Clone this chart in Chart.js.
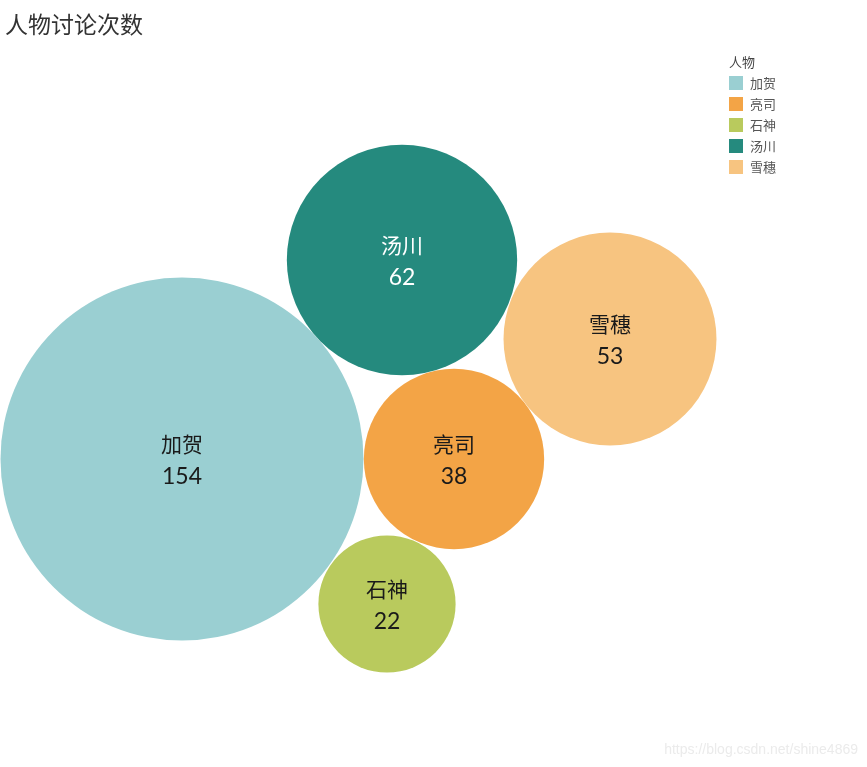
<!DOCTYPE html>
<html><head><meta charset="utf-8">
<script src="https://cdn.jsdelivr.net/npm/chart.js@4/dist/chart.umd.min.js"></script>
<style>
html,body{margin:0;padding:0;background:#fff;width:867px;height:767px;overflow:hidden;font-family:"Noto Sans CJK SC","Noto Sans",sans-serif;}
#wrap{position:absolute;left:0;top:0;width:867px;height:767px;}
#title{position:absolute;left:5px;top:7px;font-size:23px;color:#333;font-family:"Noto Sans CJK SC",sans-serif;line-height:32px;}
#legend{position:absolute;left:729px;top:52px;font-size:13px;color:#555;font-family:"Noto Sans CJK SC",sans-serif;}
#legend .hd{height:20px;line-height:20px;color:#444;}
#legend .it{height:21px;line-height:21px;display:flex;align-items:center;}
#legend .sw{width:14px;height:14px;margin-right:7px;}
#wm{position:absolute;right:9px;bottom:10px;font-size:14px;color:#ebebeb;font-family:"Liberation Sans",Arial,sans-serif;}
</style></head>
<body>
<div id="wrap"><canvas id="c" width="867" height="767"></canvas></div>
<div id="title">人物讨论次数</div>
<div id="legend"></div>
<div id="wm">https://blog.csdn.net/shine4869</div>
<script>
const names = ["加贺","亮司","石神","汤川","雪穗"];
const counts = [154, 38, 22, 62, 53];
const centerX = [182, 454, 387, 402, 610];
const centerY = [459, 459, 604, 260, 339];
const colors = ["#9ACFD2","#F3A446","#B9CA5D","#258A7E","#F7C480"];
const textColors = ["#1a1a1a","#1a1a1a","#1a1a1a","#ffffff","#1a1a1a"];
const legendTitle = "人物";

const maxR = 181.5;
const maxV = Math.max(...counts);

const leg = document.getElementById('legend');
let h = '<div class="hd">'+legendTitle+'</div>';
names.forEach((n,i)=>{ h += '<div class="it"><div class="sw" style="background:'+colors[i]+'"></div>'+n+'</div>'; });
leg.innerHTML = h;

const labelPlugin = {
  id:'bubbleLabels',
  afterDatasetsDraw(chart){
    const ctx = chart.ctx;
    const meta = chart.getDatasetMeta(0);
    ctx.save();
    ctx.textAlign='center';
    ctx.textBaseline='middle';
    meta.data.forEach((el,i)=>{
      ctx.fillStyle = textColors[i];
      ctx.font = '21px "Noto Sans CJK SC", sans-serif';
      ctx.fillText(names[i], el.x, el.y-15);
      ctx.font = '23px Lato, "Open Sans", sans-serif';
      ctx.fillText(String(counts[i]), el.x, el.y+18);
    });
    ctx.restore();
  }
};

new Chart(document.getElementById('c'), {
  type:'bubble',
  data:{
    datasets:[{
      label:'人物讨论次数',
      data: names.map((n,i)=>({x:centerX[i], y:centerY[i], r: maxR*Math.sqrt(counts[i]/maxV)})),
      backgroundColor: colors,
      hoverBackgroundColor: colors,
      borderWidth:0,
      hoverBorderWidth:0,
      clip:false
    }]
  },
  options:{
    responsive:false,
    animation:false,
    events:[],
    layout:{padding:0, autoPadding:false},
    plugins:{legend:{display:false}, title:{display:false}, tooltip:{enabled:false}},
    scales:{
      x:{type:'linear', min:0, max:867, display:false},
      y:{type:'linear', min:0, max:767, reverse:true, display:false}
    }
  },
  plugins:[labelPlugin]
});
</script>
</body></html>
